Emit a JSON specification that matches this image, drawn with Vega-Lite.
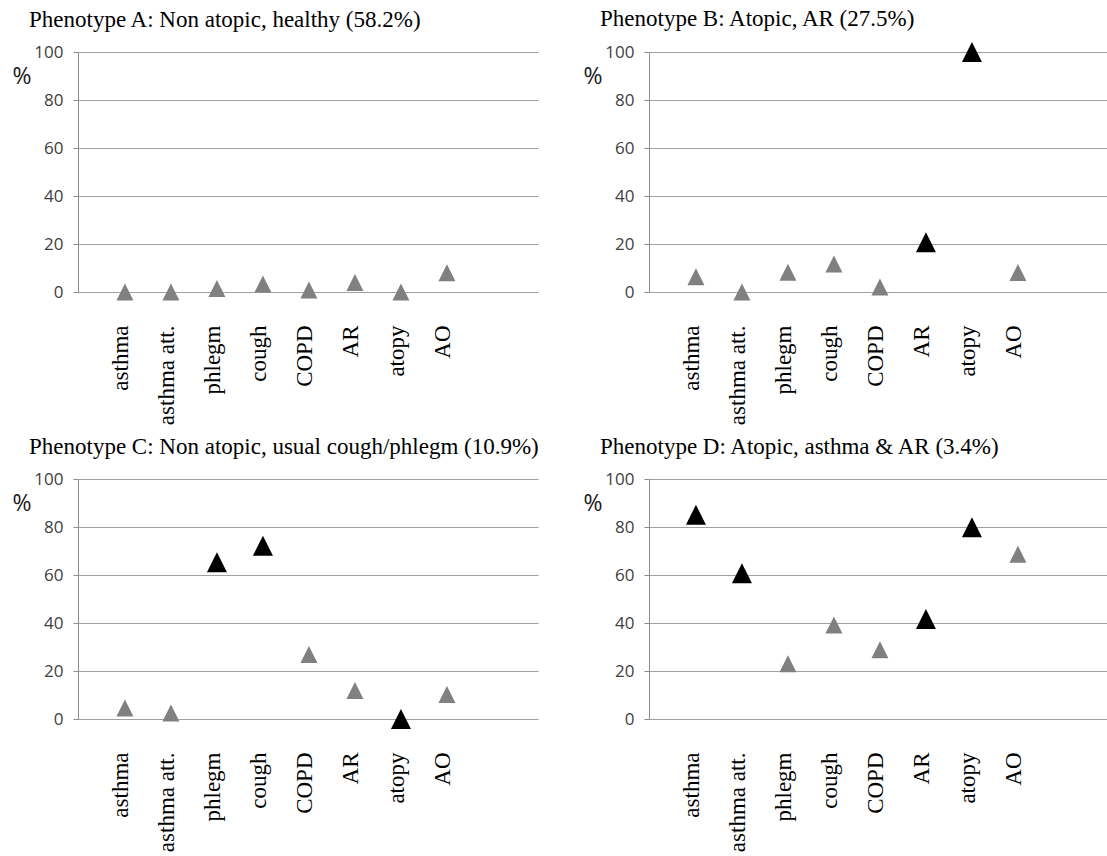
{
  "$schema": "https://vega.github.io/schema/vega-lite/v6.json",
  "background": "white",
  "padding": {"left": 12, "top": 8, "right": 0, "bottom": 5},
  "data": {
    "values": [
      {"phenotype": "A", "symptom": "asthma", "pct": 0, "defining": "no"},
      {"phenotype": "A", "symptom": "asthma att.", "pct": 0, "defining": "no"},
      {"phenotype": "A", "symptom": "phlegm", "pct": 1.5, "defining": "no"},
      {"phenotype": "A", "symptom": "cough", "pct": 3.3, "defining": "no"},
      {"phenotype": "A", "symptom": "COPD", "pct": 0.8, "defining": "no"},
      {"phenotype": "A", "symptom": "AR", "pct": 4, "defining": "no"},
      {"phenotype": "A", "symptom": "atopy", "pct": 0, "defining": "no"},
      {"phenotype": "A", "symptom": "AO", "pct": 8, "defining": "no"},
      {"phenotype": "B", "symptom": "asthma", "pct": 6.4, "defining": "no"},
      {"phenotype": "B", "symptom": "asthma att.", "pct": 0, "defining": "no"},
      {"phenotype": "B", "symptom": "phlegm", "pct": 8.2, "defining": "no"},
      {"phenotype": "B", "symptom": "cough", "pct": 11.7, "defining": "no"},
      {"phenotype": "B", "symptom": "COPD", "pct": 2.1, "defining": "no"},
      {"phenotype": "B", "symptom": "AR", "pct": 20.7, "defining": "yes"},
      {"phenotype": "B", "symptom": "atopy", "pct": 100, "defining": "yes"},
      {"phenotype": "B", "symptom": "AO", "pct": 8.1, "defining": "no"},
      {"phenotype": "C", "symptom": "asthma", "pct": 4.6, "defining": "no"},
      {"phenotype": "C", "symptom": "asthma att.", "pct": 2.5, "defining": "no"},
      {"phenotype": "C", "symptom": "phlegm", "pct": 65.3, "defining": "yes"},
      {"phenotype": "C", "symptom": "cough", "pct": 72.2, "defining": "yes"},
      {"phenotype": "C", "symptom": "COPD", "pct": 26.9, "defining": "no"},
      {"phenotype": "C", "symptom": "AR", "pct": 11.9, "defining": "no"},
      {"phenotype": "C", "symptom": "atopy", "pct": 0, "defining": "yes"},
      {"phenotype": "C", "symptom": "AO", "pct": 10.2, "defining": "no"},
      {"phenotype": "D", "symptom": "asthma", "pct": 85.1, "defining": "yes"},
      {"phenotype": "D", "symptom": "asthma att.", "pct": 60.7, "defining": "yes"},
      {"phenotype": "D", "symptom": "phlegm", "pct": 23, "defining": "no"},
      {"phenotype": "D", "symptom": "cough", "pct": 39.2, "defining": "no"},
      {"phenotype": "D", "symptom": "COPD", "pct": 28.9, "defining": "no"},
      {"phenotype": "D", "symptom": "AR", "pct": 41.7, "defining": "yes"},
      {"phenotype": "D", "symptom": "atopy", "pct": 79.9, "defining": "yes"},
      {"phenotype": "D", "symptom": "AO", "pct": 68.6, "defining": "no"}
    ]
  },
  "config": {
    "view": {"stroke": null},
    "title": {
      "font": "Liberation Serif",
      "fontSize": 23,
      "fontWeight": "normal",
      "color": "#000000",
      "anchor": "start",
      "frame": "group",
      "dx": -49,
      "offset": 11
    },
    "axisX": {
      "domain": false,
      "ticks": false,
      "tickSize": 0,
      "grid": false,
      "title": null,
      "labelAngle": -90,
      "labelAlign": "right",
      "labelBaseline": "alphabetic",
      "labelPadding": 33,
      "labelFont": "Liberation Serif",
      "labelFontSize": 23,
      "labelColor": "#000000",
      "labelOffset": 3
    },
    "axisY": {
      "domain": true,
      "domainColor": "#8c8c8c",
      "grid": true,
      "gridColor": "#a0a0a0",
      "gridWidth": 1.2,
      "ticks": true,
      "tickSize": 5,
      "tickColor": "#8c8c8c",
      "labelFont": "Open Sans",
      "labelFontSize": 17,
      "labelColor": "#404040",
      "labelPadding": 10,
      "titleFont": "Open Sans",
      "titleFontSize": 23,
      "titleFontWeight": "normal",
      "titleColor": "#1a1a1a",
      "titleAngle": 0,
      "titleAlign": "left",
      "titleBaseline": "middle",
      "titleX": -66,
      "titleY": 24
    }
  },
  "columns": 2,
  "bounds": "flush",
  "spacing": {"column": 111, "row": 187},
  "concat": [
    {
      "title": "Phenotype A: Non atopic, healthy (58.2%)",
      "width": 460,
      "height": 240,
      "transform": [{"filter": "datum.phenotype === 'A'"}],
      "mark": {"type": "point", "shape": "M0,-1L1,1L-1,1Z", "filled": true, "opacity": 1},
      "encoding": {
        "x": {"field": "symptom", "type": "nominal", "sort": null,
              "scale": {"type": "band", "paddingInner": 0, "paddingOuter": 1, "align": 0.26}},
        "y": {"field": "pct", "type": "quantitative", "title": "%",
              "scale": {"domain": [0, 100], "nice": false},
              "axis": {"values": [0, 20, 40, 60, 80, 100]}},
        "color": {"field": "defining", "type": "nominal", "legend": null,
                  "scale": {"domain": ["no", "yes"], "range": ["#808080", "#000000"]}},
        "size": {"field": "defining", "type": "nominal", "legend": null,
                 "scale": {"domain": ["no", "yes"], "range": [289, 400]}}
      }
    },
    {
      "title": "Phenotype B: Atopic, AR (27.5%)",
      "width": 460,
      "height": 240,
      "transform": [{"filter": "datum.phenotype === 'B'"}],
      "mark": {"type": "point", "shape": "M0,-1L1,1L-1,1Z", "filled": true, "opacity": 1},
      "encoding": {
        "x": {"field": "symptom", "type": "nominal", "sort": null,
              "scale": {"type": "band", "paddingInner": 0, "paddingOuter": 1, "align": 0.26}},
        "y": {"field": "pct", "type": "quantitative", "title": "%",
              "scale": {"domain": [0, 100], "nice": false},
              "axis": {"values": [0, 20, 40, 60, 80, 100]}},
        "color": {"field": "defining", "type": "nominal", "legend": null,
                  "scale": {"domain": ["no", "yes"], "range": ["#808080", "#000000"]}},
        "size": {"field": "defining", "type": "nominal", "legend": null,
                 "scale": {"domain": ["no", "yes"], "range": [289, 400]}}
      }
    },
    {
      "title": "Phenotype C: Non atopic, usual cough/phlegm (10.9%)",
      "width": 460,
      "height": 240,
      "transform": [{"filter": "datum.phenotype === 'C'"}],
      "mark": {"type": "point", "shape": "M0,-1L1,1L-1,1Z", "filled": true, "opacity": 1},
      "encoding": {
        "x": {"field": "symptom", "type": "nominal", "sort": null,
              "scale": {"type": "band", "paddingInner": 0, "paddingOuter": 1, "align": 0.26}},
        "y": {"field": "pct", "type": "quantitative", "title": "%",
              "scale": {"domain": [0, 100], "nice": false},
              "axis": {"values": [0, 20, 40, 60, 80, 100]}},
        "color": {"field": "defining", "type": "nominal", "legend": null,
                  "scale": {"domain": ["no", "yes"], "range": ["#808080", "#000000"]}},
        "size": {"field": "defining", "type": "nominal", "legend": null,
                 "scale": {"domain": ["no", "yes"], "range": [289, 400]}}
      }
    },
    {
      "title": "Phenotype D: Atopic, asthma & AR (3.4%)",
      "width": 460,
      "height": 240,
      "transform": [{"filter": "datum.phenotype === 'D'"}],
      "mark": {"type": "point", "shape": "M0,-1L1,1L-1,1Z", "filled": true, "opacity": 1},
      "encoding": {
        "x": {"field": "symptom", "type": "nominal", "sort": null,
              "scale": {"type": "band", "paddingInner": 0, "paddingOuter": 1, "align": 0.26}},
        "y": {"field": "pct", "type": "quantitative", "title": "%",
              "scale": {"domain": [0, 100], "nice": false},
              "axis": {"values": [0, 20, 40, 60, 80, 100]}},
        "color": {"field": "defining", "type": "nominal", "legend": null,
                  "scale": {"domain": ["no", "yes"], "range": ["#808080", "#000000"]}},
        "size": {"field": "defining", "type": "nominal", "legend": null,
                 "scale": {"domain": ["no", "yes"], "range": [289, 400]}}
      }
    }
  ]
}
